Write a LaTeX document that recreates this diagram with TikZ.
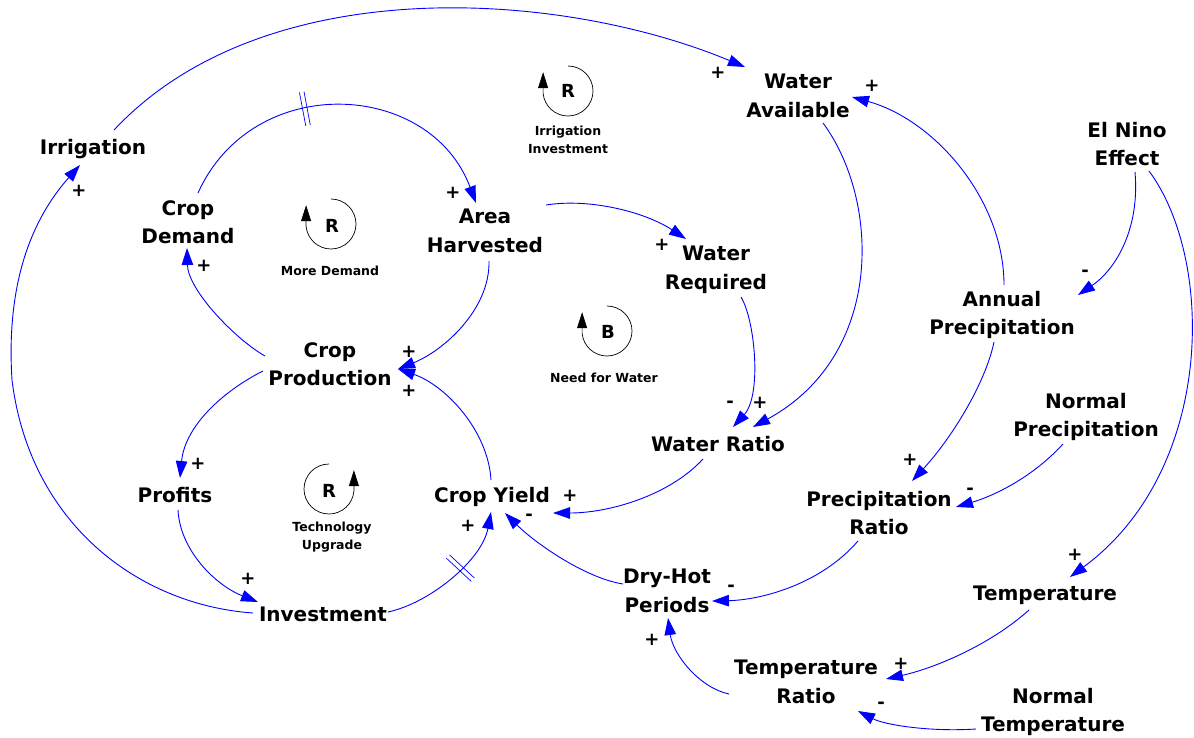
\documentclass[tikz,border=0pt]{standalone}
\usepackage{fontspec}
\setmainfont{DejaVu Sans}
\usetikzlibrary{arrows.meta,decorations.markings}
\definecolor{lk}{RGB}{0,0,255}
\begin{document}
\begin{tikzpicture}[x=1pt,y=1pt,
  var/.style={font=\bfseries\fontsize{20}{28.5}\selectfont, align=center, inner sep=0pt},
  sgn/.style={font=\bfseries\fontsize{18}{18}\selectfont, inner sep=0pt},
  looplbl/.style={font=\bfseries\fontsize{12.5}{18}\selectfont, align=center, inner sep=0pt},
  looplet/.style={font=\bfseries\fontsize{18}{18}\selectfont, inner sep=0pt},
  link/.style={draw=lk, line width=0.9pt, -{Triangle[length=17pt,width=11.5pt]}},
  loopc/.style={draw=black, line width=0.7pt, -{Triangle[length=16pt,width=10pt]}},
  delaymark/.style={postaction=decorate, decoration={markings, mark=at position #1 with {\draw[draw=lk, -, line width=0.7pt] (-2.3pt,-17pt)--(-2.3pt,17pt) (2.3pt,-17pt)--(2.3pt,17pt);}}}
]
\useasboundingbox (0,0) rectangle (1194,-738);

% variables
\node[var] (irr)  at (93,-149)   {Irrigation};
\node[var] (wa)   at (798,-96)   {Water\\Available};
\node[var] (eln)  at (1127,-144) {El Nino\\Effect};
\node[var] (cd)   at (188,-222)  {Crop\\Demand};
\node[var] (ah)   at (485,-231)  {Area\\Harvested};
\node[var] (wr)   at (716,-270)  {Water\\Required};
\node[var] (ap)   at (1002,-315) {Annual\\Precipitation};
\node[var] (cp)   at (330,-364)  {Crop\\Production};
\node[var] (np)   at (1086,-417) {Normal\\Precipitation};
\node[var] (wrat) at (718,-444)  {Water Ratio};
\node[var] (prof) at (175,-495)  {Profits};
\node[var] (cy)   at (492,-497)  {Crop Yield};
\node[var] (pr)   at (879,-513)  {Precipitation\\Ratio};
\node[var] (dh)   at (667,-591)  {Dry-Hot\\Periods};
\node[var] (temp) at (1045,-595) {Temperature};
\node[var] (inv)  at (323,-614)  {Investment};
\node[var] (tr)   at (806,-682)  {Temperature\\Ratio};
\node[var] (nt)   at (1053,-712) {Normal\\Temperature};

% connectors
\draw[link] ([shift={(21,19)}]irr.center) .. controls (264,30) and (560,10) .. ([shift={(-53,29)}]wa.center);
\draw[link, delaymark=0.4] ([shift={(10,29)}]cd.center) .. controls (253,-71) and (430,-80) .. ([shift={(-9,28)}]ah.center);
\draw[link] ([shift={(61,26)}]ah.center) .. controls (590,-198) and (645,-212) .. ([shift={(-30,31)}]wr.center);
\draw[link] ([shift={(4,-30)}]ah.center) .. controls (490,-310) and (443,-351) .. ([shift={(68,-5)}]cp.center);
\draw[link] ([shift={(-65,8)}]cp.center) .. controls (235,-339) and (188,-290) .. ([shift={(-1,-26)}]cd.center);
\draw[link] ([shift={(-67,-7)}]cp.center) .. controls (225,-390) and (185,-425) .. ([shift={(5,17)}]prof.center);
\draw[link] ([shift={(3,-15)}]prof.center) .. controls (180,-550) and (215,-585) .. ([shift={(-65,12)}]inv.center);
\draw[link, delaymark=0.57] ([shift={(65,2)}]inv.center) .. controls (430,-603) and (482,-560) .. ([shift={(-1,-15)}]cy.center);
\draw[link] ([shift={(-1,17)}]cy.center) .. controls (488,-430) and (445,-385) .. ([shift={(68,-5)}]cp.center);
\draw[link] ([shift={(-70,1)}]inv.center) .. controls (140,-605) and (30,-525) .. (12,-380)
            .. controls (5,-270) and (40,-210) .. ([shift={(-13,-16)}]irr.center);
\draw[link] ([shift={(25,-27)}]wa.center) .. controls (880,-200) and (885,-355) .. ([shift={(35,17)}]wrat.center);
\draw[link] ([shift={(25,-27)}]wr.center) .. controls (755,-320) and (762,-395) .. ([shift={(15,17)}]wrat.center);
\draw[link] ([shift={(-15,-15)}]wrat.center) .. controls (670,-495) and (610,-513) .. ([shift={(61,-16)}]cy.center);
\draw[link] ([shift={(-44,7)}]dh.center) .. controls (585,-578) and (535,-543) .. ([shift={(13,-16)}]cy.center);
\draw[link] ([shift={(2,30)}]ap.center) .. controls (1004,-200) and (935,-120) .. ([shift={(54,-1)}]wa.center);
\draw[link] ([shift={(8,-28)}]eln.center) .. controls (1140,-230) and (1115,-270) .. ([shift={(76,20)}]ap.center);
\draw[link] ([shift={(22,-27)}]eln.center) .. controls (1215,-260) and (1215,-470) .. ([shift={(25,18)}]temp.center);
\draw[link] ([shift={(-8,-27)}]ap.center) .. controls (985,-385) and (950,-440) .. ([shift={(33,32)}]pr.center);
\draw[link] ([shift={(-23,-27)}]np.center) .. controls (1030,-480) and (990,-497) .. ([shift={(77,6)}]pr.center);
\draw[link] ([shift={(-21,-28)}]pr.center) .. controls (820,-585) and (760,-600) .. ([shift={(45,-10)}]dh.center);
\draw[link] ([shift={(-16,-15)}]temp.center) .. controls (990,-645) and (935,-668) .. ([shift={(80,3)}]tr.center);
\draw[link] ([shift={(-77,-17)}]nt.center) .. controls (930,-732) and (885,-725) .. ([shift={(52,-29)}]tr.center);
\draw[link] ([shift={(-77,-12)}]tr.center) .. controls (700,-688) and (673,-655) .. ([shift={(1,-27)}]dh.center);

% polarity signs
\node[sgn] (s1)  at (718,-73)  {+};
\node[sgn] (s2)  at (453,-193) {+};
\node[sgn] (s3)  at (662,-245) {+};
\node[sgn] (s4)  at (409,-352) {+};
\node[sgn] (s5)  at (204,-266) {+};
\node[sgn] (s6)  at (198,-464) {+};
\node[sgn] (s7)  at (248,-579) {+};
\node[sgn] (s8)  at (468,-526) {+};
\node[sgn] (s9)  at (409,-391) {+};
\node[sgn] (s10) at (79,-191)  {+};
\node[sgn] (s11) at (760,-403) {+};
\node[sgn] (s12) at (730,-404) {-};
\node[sgn] (s13) at (570,-496) {+};
\node[sgn] (s14) at (529,-517) {-};
\node[sgn] (s15) at (872,-86)  {+};
\node[sgn] (s16) at (1085,-273) {-};
\node[sgn] (s17) at (1075,-555) {+};
\node[sgn] (s18) at (910,-460) {+};
\node[sgn] (s19) at (970,-491) {-};
\node[sgn] (s20) at (731,-588) {-};
\node[sgn] (s21) at (901,-664) {+};
\node[sgn] (s22) at (881,-705) {-};
\node[sgn] (s23) at (652,-640) {+};

% loop markers
\draw[loopc] (568,-91) ++(90:25pt) arc[start angle=90,end angle=-175,radius=25pt] -- ++(0,21);
\node[looplet] (l1r) at (568,-91) {R};
\node[looplbl] (l1t) at (568,-140) {Irrigation\\Investment};

\draw[loopc] (331,-224) ++(90:25pt) arc[start angle=90,end angle=-175,radius=25pt] -- ++(0,21);
\node[looplet] (l2r) at (332,-226) {R};
\node[looplbl] (l2t) at (330,-271) {More Demand};

\draw[loopc] (607,-331) ++(90:25pt) arc[start angle=90,end angle=-175,radius=25pt] -- ++(0,21);
\node[looplet] (l3r) at (608,-332) {B};
\node[looplbl] (l3t) at (604,-378) {Need for Water};

\draw[loopc] (329,-489) ++(90:25pt) arc[start angle=90,end angle=355,radius=25pt] -- ++(0,21);
\node[looplet] (l4r) at (329,-491) {R};
\node[looplbl] (l4t) at (332,-537) {Technology\\Upgrade};
\end{tikzpicture}
\end{document}
